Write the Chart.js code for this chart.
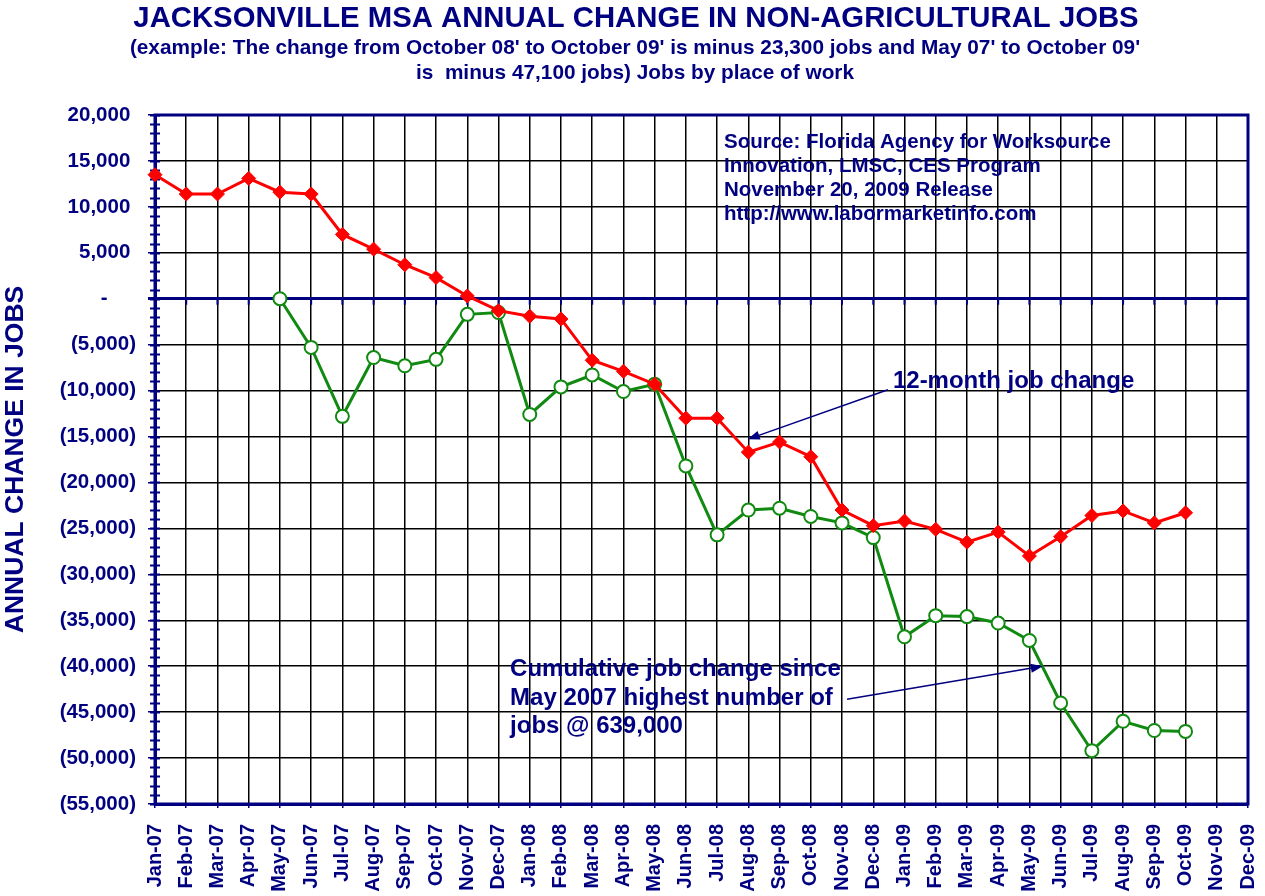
<!DOCTYPE html>
<html>
<head>
<meta charset="utf-8">
<script src="https://cdn.jsdelivr.net/npm/chart.js@4.4.0/dist/chart.umd.min.js"></script>
<style>
  html, body { margin: 0; padding: 0; background: #fff; }
</style>
</head>
<body>
<canvas id="jobsChart" width="1265" height="896"></canvas>
<script>
// mois (axe x)
const months = [
  'Jan-07','Feb-07','Mar-07','Apr-07','May-07','Jun-07','Jul-07','Aug-07','Sep-07','Oct-07','Nov-07','Dec-07',
  'Jan-08','Feb-08','Mar-08','Apr-08','May-08','Jun-08','Jul-08','Aug-08','Sep-08','Oct-08','Nov-08','Dec-08',
  'Jan-09','Feb-09','Mar-09','Apr-09','May-09','Jun-09','Jul-09','Aug-09','Sep-09','Oct-09','Nov-09','Dec-09'
];

// variation sur 12 mois (rouge)
const twelveMonthChange = [
  13500, 11400, 11400, 13100, 11600, 11400, 7000, 5400, 3700, 2300, 300, -1300,
  -1900, -2200, -6700, -7900, -9300, -13000, -13000, -16700, -15600, -17200, -23000, -24700,
  -24200, -25100, -26500, -25400, -28000, -25900, -23600, -23100, -24400, -23300, null, null
];

// variation cumulée depuis mai 2007 (vert)
const cumulativeChange = [
  null, null, null, null, 0, -5300, -12800, -6400, -7300, -6600, -1700, -1500,
  -12600, -9600, -8300, -10100, -9300, -18200, -25700, -23000, -22800, -23700, -24400, -26000,
  -36800, -34500, -34600, -35300, -37200, -44000, -49200, -46000, -47000, -47100, null, null
];

const yMin = -55000;
const yMax = 20000;
const yStep = 5000;

const titleText = 'JACKSONVILLE MSA ANNUAL CHANGE IN NON-AGRICULTURAL JOBS';
const subtitleLines = [
  "(example: The change from October 08' to October 09' is minus 23,300 jobs and May 07' to October 09'",
  "is  minus 47,100 jobs) Jobs by place of work"
];
const sourceLines = [
  'Source: Florida Agency for Worksource',
  'Innovation, LMSC, CES Program',
  'November 20, 2009 Release',
  'http://www.labormarketinfo.com'
];
const cumulativeNote = ['Cumulative job change since', 'May 2007 highest number of', 'jobs @ 639,000'];
const twelveMonthNote = '12-month job change';

const NAVY = '#000080';
const FONT = "'Liberation Sans', Arial, sans-serif";

function fmtTick(v) {
  if (v === 0) return '-\u00a0\u00a0\u00a0\u00a0\u00a0';
  const s = Math.abs(v).toLocaleString('en-US');
  return v < 0 ? '(' + s + ')' : s + '\u00a0';
}

// textes, cadre, petites graduations et flèches
const decorPlugin = {
  id: 'decor',
  beforeDatasetsDraw(chart) {
    const { ctx, chartArea: a, scales } = chart;
    const y = scales.y, x = scales.x;
    ctx.save();
    // graduations mineures tous les 1000
    ctx.strokeStyle = NAVY;
    ctx.lineWidth = 2;
    for (let v = yMin; v <= yMax; v += 1000) {
      const py = Math.round(y.getPixelForValue(v)) + 0.5;
      ctx.beginPath();
      ctx.moveTo(a.left - 5, py);
      ctx.lineTo(a.left + 5, py);
      ctx.stroke();
    }
    // petites graduations sur la ligne zéro
    const y0 = y.getPixelForValue(0);
    for (let i = 0; i < months.length; i++) {
      const px = x.getPixelForValue(i);
      ctx.beginPath();
      ctx.moveTo(px, y0);
      ctx.lineTo(px, y0 + 6);
      ctx.stroke();
    }
    // cadre
    ctx.lineWidth = 3;
    ctx.strokeRect(a.left, a.top, a.right - a.left, a.bottom - a.top);
    ctx.restore();
  },
  afterDatasetsDraw(chart) {
    const { ctx, scales } = chart;
    const x = scales.x, y = scales.y;
    const P = (i, v) => [x.getPixelForValue(i), y.getPixelForValue(v)];
    ctx.save();
    ctx.fillStyle = NAVY;
    ctx.textBaseline = 'middle';
    ctx.textAlign = 'left';

    // source
    ctx.font = 'bold 20.5px ' + FONT;
    let [sx, sy] = P(18.22, 17000);
    sourceLines.forEach((t, k) => ctx.fillText(t, sx, sy + k * 24));

    // annotation 12 mois
    ctx.font = 'bold 24px ' + FONT;
    let [tx, ty] = P(23.63, -9000);
    ctx.fillText(twelveMonthNote, tx, ty);

    // annotation cumul
    let [cx, cy] = P(11.37, -40400);
    cumulativeNote.forEach((t, k) => ctx.fillText(t, cx, cy + k * 28.5));

    // flèches
    drawArrow(ctx, P(23.47, -9900), P(18.98, -15300));
    drawArrow(ctx, P(22.16, -43600), P(28.43, -40000));

    // titres
    ctx.textAlign = 'center';
    ctx.font = 'bold 29.3px ' + FONT;
    ctx.fillText(titleText, 636, 19);
    ctx.font = 'bold 20.8px ' + FONT;
    ctx.fillText(subtitleLines[0], 635, 48);
    ctx.fillText(subtitleLines[1], 635, 73);
    ctx.restore();
  }
};

function drawArrow(ctx, from, to) {
  const [x1, y1] = from, [x2, y2] = to;
  const ang = Math.atan2(y2 - y1, x2 - x1);
  ctx.save();
  ctx.strokeStyle = NAVY;
  ctx.fillStyle = NAVY;
  ctx.lineWidth = 1.5;
  ctx.beginPath();
  ctx.moveTo(x1, y1);
  ctx.lineTo(x2 - 8 * Math.cos(ang), y2 - 8 * Math.sin(ang));
  ctx.stroke();
  ctx.beginPath();
  ctx.moveTo(x2, y2);
  ctx.lineTo(x2 - 12 * Math.cos(ang) + 4.5 * Math.sin(ang), y2 - 12 * Math.sin(ang) - 4.5 * Math.cos(ang));
  ctx.lineTo(x2 - 12 * Math.cos(ang) - 4.5 * Math.sin(ang), y2 - 12 * Math.sin(ang) + 4.5 * Math.cos(ang));
  ctx.closePath();
  ctx.fill();
  ctx.restore();
}

const ctx = document.getElementById('jobsChart').getContext('2d');
new Chart(ctx, {
  type: 'line',
  data: {
    labels: months,
    datasets: [
      {
        label: '12-month job change',
        data: twelveMonthChange,
        borderColor: '#ff0000',
        backgroundColor: '#ff0000',
        borderWidth: 3,
        pointStyle: 'rectRot',
        pointRadius: 7,
        pointBorderWidth: 1,
        tension: 0,
        spanGaps: false
      },
      {
        label: 'Cumulative job change',
        data: cumulativeChange,
        borderColor: '#108a10',
        backgroundColor: '#ffffff',
        pointBackgroundColor: '#ffffff',
        pointBorderColor: '#108a10',
        borderWidth: 3,
        pointStyle: 'circle',
        pointRadius: 6.5,
        pointBorderWidth: 2,
        tension: 0
      }
    ]
  },
  options: {
    responsive: false,
    animation: false,
    devicePixelRatio: 1,
    layout: { padding: { left: 0, right: 17, top: 115, bottom: 0 } },
    plugins: {
      legend: { display: false },
      tooltip: { enabled: false }
    },
    scales: {
      x: {
        offset: false,
        grid: {
          offset: false,
          color: '#000000',
          lineWidth: 1.5,
          tickLength: 4,
          tickColor: NAVY
        },
        border: { color: NAVY, width: 3 },
        ticks: {
          autoSkip: false,
          maxRotation: 90,
          minRotation: 90,
          padding: 16,
          color: NAVY,
          font: { family: FONT, size: 20, weight: 'bold' }
        },
        afterFit(scale) {
          scale.height = 92;
          scale.paddingLeft = 0;
          scale.paddingRight = 0;
        }
      },
      y: {
        min: yMin,
        max: yMax,
        grid: {
          color: c => (c.tick && c.tick.value === 0 ? NAVY : '#000000'),
          lineWidth: c => (c.tick && c.tick.value === 0 ? 3 : 1.5),
          tickLength: 7,
          tickColor: NAVY
        },
        border: { color: NAVY, width: 3 },
        ticks: {
          stepSize: yStep,
          padding: 12,
          color: NAVY,
          font: { family: FONT, size: 20.5, weight: 'bold' },
          callback: v => fmtTick(v)
        },
        title: {
          display: true,
          text: 'ANNUAL CHANGE IN JOBS',
          color: NAVY,
          padding: { top: 0, bottom: 0 },
          font: { family: FONT, size: 26.5, weight: 'bold' }
        },
        afterFit(scale) {
          scale.width = 155;
          scale.paddingTop = 0;
          scale.paddingBottom = 0;
        }
      }
    }
  },
  plugins: [decorPlugin]
});
</script>
</body>
</html>
